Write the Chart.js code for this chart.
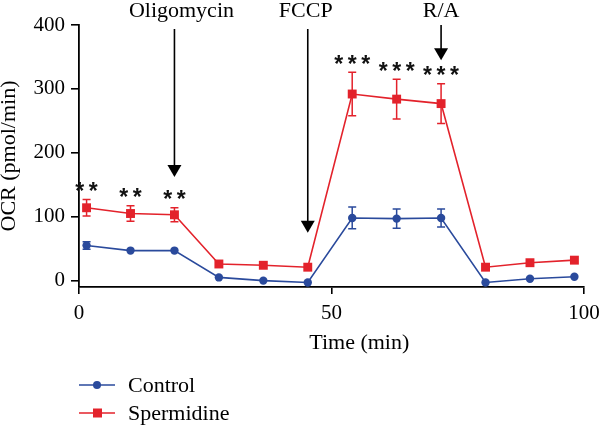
<!DOCTYPE html>
<html><head><meta charset="utf-8">
<script src="https://cdn.jsdelivr.net/npm/chart.js@4/dist/chart.umd.min.js"></script>
<style>html,body{margin:0;padding:0;background:#fff;overflow:hidden}#wrap{width:600px;height:426px;position:relative}</style>
</head><body><div id="wrap"><canvas id="c"></canvas></div>
<script>
const timeMin = [1.5, 10.2, 18.9, 27.7, 36.5, 45.3, 54.1, 62.9, 71.7, 80.5, 89.3, 98.1];
const controlOCR = [55, 47, 47, 5, 0, -3, 98, 97, 98, -3, 3, 6];
const controlErr = [6, 0, 0, 0, 0, 0, 17, 15, 14, 0, 0, 0];
const spermOCR = [114, 105, 103, 26, 24, 21, 292, 284, 277, 21, 28, 32];
const spermErr = [13, 12, 11, 0, 0, 0, 34, 31, 31, 0, 0, 0];
const sigMarks = ['**', '**', '**', '', '', '', '***', '***', '***', '', '', ''];
const injectionLabels = ['Oligomycin', 'FCCP', 'R/A'];
const injectionTimes = [18.9, 45.3, 71.7];
const injectionTip = [162, 75, 345];
const yTicks = [0, 100, 200, 300, 400];
const xTicks = [0, 50, 100];
const seriesNames = ['Control', 'Spermidine'];

const BLUE = '#2a4a9c', RED = '#e3222b';
const SERIF = '"Liberation Serif", "Times New Roman", serif';

const ds = (name, ys, color, style, r) => ({
  label: name,
  data: timeMin.map((t, i) => ({x: t, y: ys[i]})),
  borderColor: color, backgroundColor: color, borderWidth: 1.6,
  pointStyle: style, pointRadius: r, pointHoverRadius: r, pointBorderWidth: 0,
  tension: 0
});

const errorBars = {
  id: 'errorBars',
  afterDatasetsDraw(chart) {
    const {ctx, scales: {x, y}} = chart;
    const errs = [controlErr, spermErr];
    const cols = [BLUE, RED];
    ctx.save();
    errs.forEach((err, d) => {
      ctx.strokeStyle = cols[d]; ctx.lineWidth = 1.5;
      const vals = chart.data.datasets[d].data;
      err.forEach((e, i) => {
        if (!e) return;
        const px = x.getPixelForValue(vals[i].x);
        const top = y.getPixelForValue(vals[i].y + e);
        const bot = y.getPixelForValue(vals[i].y - e);
        ctx.beginPath();
        ctx.moveTo(px, top); ctx.lineTo(px, bot);
        ctx.moveTo(px - 4, top); ctx.lineTo(px + 4, top);
        ctx.moveTo(px - 4, bot); ctx.lineTo(px + 4, bot);
        ctx.stroke();
      });
    });
    // significance stars above Spermidine error bars
    ctx.fillStyle = '#111';
    ctx.font = 'bold 23px "Liberation Sans", Arial, sans-serif';
    ctx.textAlign = 'center';
    ctx.textBaseline = 'alphabetic';
    const m = ctx.measureText('*');
    const mid = (m.actualBoundingBoxAscent - m.actualBoundingBoxDescent) / 2;
    sigMarks.forEach((s, i) => {
      if (!s) return;
      const px = x.getPixelForValue(timeMin[i]);
      const cy = y.getPixelForValue(spermOCR[i] + spermErr[i]) - 13;
      const n = s.length;
      for (let k = 0; k < n; k++) {
        ctx.fillText('*', px + (k - (n - 1) / 2) * 13.5, cy + mid);
      }
    });
    // injection arrows
    ctx.strokeStyle = '#000'; ctx.fillStyle = '#000'; ctx.lineWidth = 1.6;
    ctx.font = '22px ' + SERIF;
    ctx.textBaseline = 'alphabetic';
    const labelDx = [7, -2, 0];
    injectionLabels.forEach((lab, i) => {
      const px = x.getPixelForValue(injectionTimes[i]);
      const tip = y.getPixelForValue(injectionTip[i]);
      const topY = i === 2 ? 25 : 29;
      ctx.beginPath(); ctx.moveTo(px, topY); ctx.lineTo(px, tip - 10); ctx.stroke();
      ctx.beginPath(); ctx.moveTo(px - 7, tip - 12); ctx.lineTo(px + 7, tip - 12); ctx.lineTo(px, tip); ctx.closePath(); ctx.fill();
      ctx.fillText(lab, px + labelDx[i], 17);
    });
    // x-axis title
    ctx.font = '22px ' + SERIF;
    ctx.textBaseline = 'middle';
    ctx.fillText('Time (min)', x.getPixelForValue(55.5), 343);
    // legend
    const cols2 = [BLUE, RED];
    seriesNames.forEach((nm, i) => {
      const ly = 385 + i * 28;
      ctx.strokeStyle = cols2[i]; ctx.fillStyle = cols2[i]; ctx.lineWidth = 1.6;
      ctx.beginPath(); ctx.moveTo(79, ly); ctx.lineTo(115, ly); ctx.stroke();
      if (i === 0) { ctx.beginPath(); ctx.arc(97, ly, 4, 0, Math.PI * 2); ctx.fill(); }
      else { ctx.fillRect(93, ly - 4.5, 9, 9); }
      ctx.fillStyle = '#000'; ctx.textAlign = 'left';
      ctx.fillText(nm, 128, ly + 1);
    });
    ctx.restore();
  }
};

new Chart(document.getElementById('c'), {
  type: 'line',
  data: {datasets: [
    ds(seriesNames[0], controlOCR, BLUE, 'circle', 4.2),
    ds(seriesNames[1], spermOCR, RED, 'rect', 6.3)
  ]},
  options: {
    responsive: true, maintainAspectRatio: false, animation: false,
    devicePixelRatio: 1,
    layout: {padding: {left: 0, right: 16, top: 25, bottom: 0}},
    plugins: {legend: {display: false}, tooltip: {enabled: false}},
    scales: {
      x: {
        type: 'linear', min: 0, max: 100,
        afterBuildTicks: s => { s.ticks = xTicks.map(v => ({value: v})); },
        afterFit: s => { s.height = 139; s.paddingLeft = 0; s.paddingRight = 0; },
        grid: {drawOnChartArea: false, drawTicks: true, tickLength: 7, color: '#000', lineWidth: 1.6},
        border: {display: true, color: '#000', width: 1.8},
        ticks: {color: '#000', padding: 7, maxRotation: 0, font: {family: SERIF, size: 21}}
      },
      y: {
        type: 'linear', min: -10, max: 400,
        afterBuildTicks: s => { s.ticks = yTicks.map(v => ({value: v})); },
        afterFit: s => { s.width = 79; s.paddingTop = 0; s.paddingBottom = 0; },
        grid: {drawOnChartArea: false, drawTicks: true, tickLength: 8, color: '#000', lineWidth: 1.6},
        border: {display: true, color: '#000', width: 1.8},
        ticks: {color: '#000', padding: 6, font: {family: SERIF, size: 21}},
        title: {display: true, text: 'OCR (pmol/min)', color: '#000', font: {family: SERIF, size: 22}, padding: {top: -4, bottom: 0}}
      }
    }
  },
  plugins: [errorBars]
});
</script></body></html>
